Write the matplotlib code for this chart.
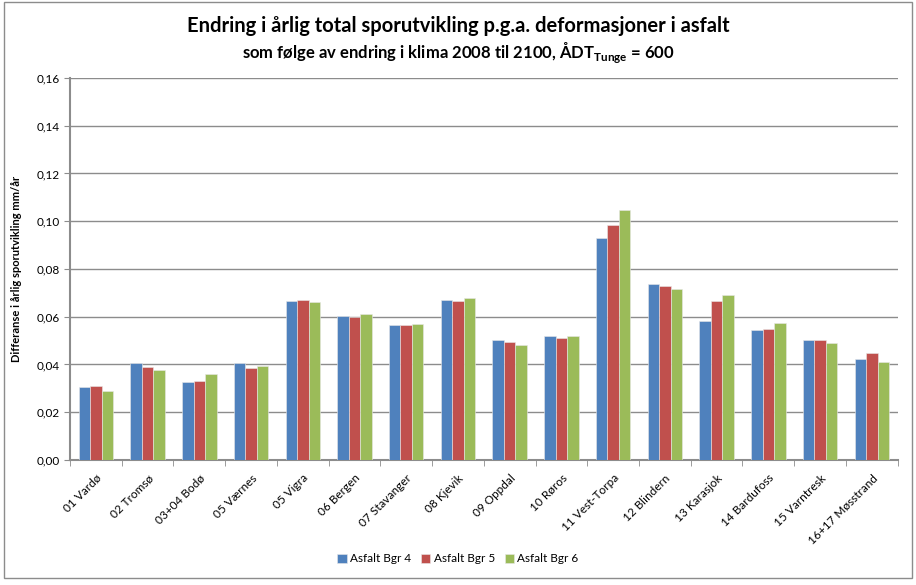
import numpy as np
import matplotlib.pyplot as plt
from matplotlib.ticker import FixedLocator, FuncFormatter

plt.rcParams['font.family'] = ['Lato', 'DejaVu Sans']
plt.rcParams['mathtext.fontset'] = 'custom'
plt.rcParams['mathtext.rm'] = 'Lato'
plt.rcParams['mathtext.bf'] = 'Lato:bold'

# data
stations = ['01 Vardø', '02 Tromsø', '03+04 Bodø', '05 Værnes', '05 Vigra', '06 Bergen',
            '07 Stavanger', '08 Kjevik', '09 Oppdal', '10 Røros', '11 Vest-Torpa',
            '12 Blindern', '13 Karasjok', '14 Bardufoss', '15 Varntresk', '16+17 Møsstrand']
bgr4 = [0.0304, 0.0405, 0.0327, 0.0405, 0.0666, 0.0602, 0.0564, 0.0670,
        0.0503, 0.0519, 0.0930, 0.0736, 0.0582, 0.0544, 0.0501, 0.0423]
bgr5 = [0.0309, 0.0390, 0.0331, 0.0387, 0.0670, 0.0599, 0.0564, 0.0665,
        0.0493, 0.0511, 0.0986, 0.0727, 0.0665, 0.0550, 0.0504, 0.0448]
bgr6 = [0.0290, 0.0377, 0.0360, 0.0395, 0.0660, 0.0611, 0.0571, 0.0679,
        0.0482, 0.0519, 0.1046, 0.0716, 0.0692, 0.0575, 0.0491, 0.0412]
series = [('Asfalt Bgr 4', bgr4, '#4F81BD'),
          ('Asfalt Bgr 5', bgr5, '#C0504D'),
          ('Asfalt Bgr 6', bgr6, '#9BBB59')]

fig = plt.figure(figsize=(9.16, 5.85), dpi=100)
ax = fig.add_axes([0.0764, 0.2137, 0.9036, 0.653])

x = np.arange(len(stations))
w = 0.222
for i, (name, vals, col) in enumerate(series):
    ax.bar(x + (i - 1) * w, vals, w, color=col, label=name,
           edgecolor='#e8e8e8', linewidth=0.4, zorder=3)

ax.set_xlim(-0.5, len(stations) - 0.5)
ax.set_ylim(0, 0.16)
ax.set_yticks(np.arange(0, 0.161, 0.02))
ax.yaxis.set_major_formatter(FuncFormatter(lambda v, p: f'{v:.2f}'.replace('.', ',')))
ax.yaxis.grid(True, color='#8c8c8c', linewidth=1.0, zorder=0)
ax.set_axisbelow(True)

ax.set_xticks(x)
ax.set_xticklabels(stations, rotation=45, ha='right', rotation_mode='anchor', fontsize=8.5)
ax.tick_params(axis='x', which='major', length=0, pad=9)
ax.xaxis.set_minor_locator(FixedLocator(np.arange(-0.5, len(stations), 1)))
ax.tick_params(axis='x', which='minor', length=4, color='#8c8c8c')
ax.tick_params(axis='y', length=4, color='#8c8c8c', labelsize=8.5)

for s in ['top', 'right']:
    ax.spines[s].set_visible(False)
for s in ['left', 'bottom']:
    ax.spines[s].set_color('#8c8c8c')
    ax.spines[s].set_linewidth(1.5)

ax.set_ylabel('Differanse i årlig sporutvikling mm/år', fontsize=8, fontweight='bold', labelpad=10)

fig.text(0.5, 0.955, 'Endring i årlig total sporutvikling p.g.a. deformasjoner i asfalt',
         ha='center', va='center', fontsize=14.5, fontweight='bold')
fig.text(0.5, 0.91, r'som følge av endring i klima 2008 til 2100, ÅDT$_{\bf Tunge}$ = 600',
         ha='center', va='center', fontsize=12, fontweight='bold')

fig.legend(loc='center', bbox_to_anchor=(0.5, 0.045), ncol=3, frameon=False,
           fontsize=8.5, handlelength=0.8, handleheight=0.8, columnspacing=0.8, handletextpad=0.3)

fig.patches.append(plt.Rectangle((0.004, 0.012), 0.992, 0.984, transform=fig.transFigure,
                                 fill=False, edgecolor='#8c8c8c', linewidth=1))

fig.savefig('out.png', dpi=100)
